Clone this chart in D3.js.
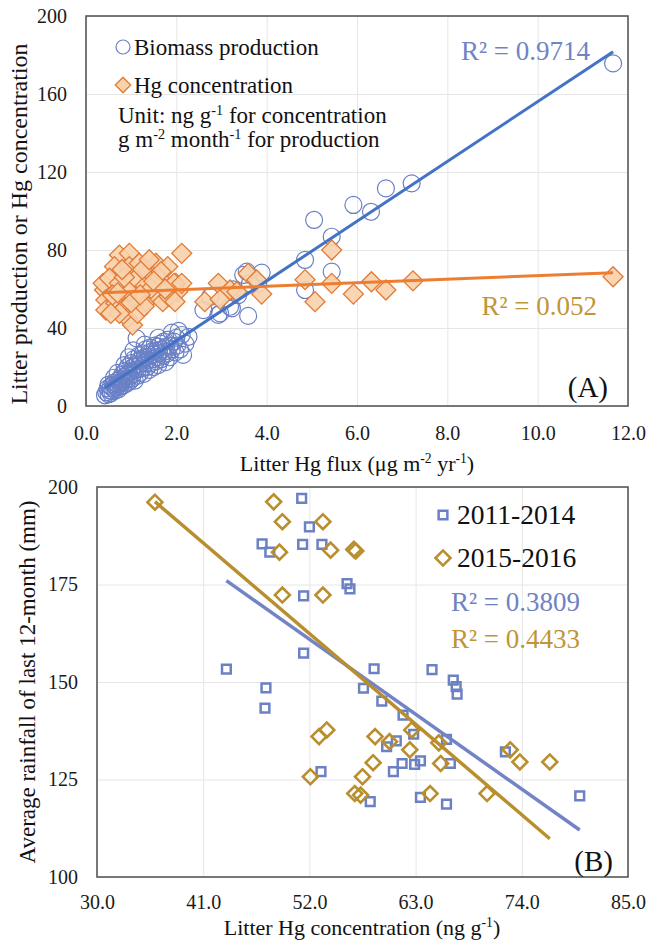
<!DOCTYPE html>
<html>
<head>
<meta charset="utf-8">
<script src="https://cdn.jsdelivr.net/npm/d3@7"></script>
<style>
  body { margin: 0; background: #fff; }
  svg, svg text { font-family: "Liberation Serif", "Times New Roman", serif; }
</style>
</head>
<body>
<div id="chart"></div>
<script>
// ---- Panel A: litter Hg flux vs production / Hg concentration ----
// [flux (ug m-2 yr-1), biomass production (g m-2 month-1)]
const biomassProd = [
  [0.42,5.5],[0.45,7],[0.48,9],[0.5,6],[0.52,8],[0.55,10],[0.55,6.5],[0.58,7.5],[0.6,9],[0.6,11],
  [0.62,12],[0.65,8],[0.65,10],[0.68,9.5],[0.7,11],[0.7,13],[0.72,8.5],[0.74,12],[0.75,14],[0.76,10],
  [0.78,11.5],[0.8,13],[0.8,16],[0.82,10.5],[0.84,12.5],[0.85,15],[0.86,18],[0.88,13.5],[0.9,11.5],[0.9,16],
  [0.92,20],[0.94,14],[0.95,17],[0.96,12.5],[0.98,15.5],[1.0,18],[1.0,22],[1.02,14],[1.04,20],[1.05,16.5],
  [1.06,24],[1.08,13],[1.1,18.5],[1.1,21],[1.12,34.7],[1.14,15.5],[1.15,23],[1.16,19],[1.18,26],[1.2,17],
  [1.2,21.5],[1.22,24],[1.25,19.5],[1.26,27],[1.28,16.5],[1.3,22],[1.3,25],[1.32,29],[1.35,20],[1.36,23.5],
  [1.38,27],[1.4,18.5],[1.4,25.5],[1.42,30],[1.45,22],[1.46,28],[1.48,24],[1.5,20],[1.5,26.5],[1.52,31],
  [1.55,23],[1.56,28.5],[1.58,25],[1.6,30.5],[1.6,21],[1.62,27],[1.65,32],[1.66,24],[1.68,29],[1.7,26],
  [1.72,33],[1.75,28],[1.76,22.5],[1.78,30.4],[1.8,27],[1.82,34],[1.85,25],[1.86,31],[1.9,37.6],[1.9,29],
  [1.95,33],[1.98,27.5],[2.0,35],[2.02,31],[2.05,38.5],[2.08,29],[2.12,36.4],[2.15,26.2],[2.2,32],[2.27,35.5],
  [0.95,25],[1.05,28.5],[0.7,17],[0.85,21],[0.5,11],[0.62,14.5],[1.3,31.5],[1.6,35],
  [2.60,49.2],[2.75,56.0],[2.93,46.7],[2.97,47.5],[3.19,50.9],[3.23,50.1],[3.26,59.8],[3.37,56.9],[3.48,67.2],
  [3.56,68.9],[3.59,46.2],[3.63,62.9],[3.81,62.9],[3.89,68.4],[4.85,59.5],[4.85,74.9],[5.05,95.4],[5.44,86.8],
  [5.44,68.9],[5.92,103.1],[6.31,99.6],[6.64,111.6],[7.21,114.2],[11.67,175.7]
];

// [flux, litter Hg concentration (ng g-1)]
const hgConc = [
  [0.74,77.4],[0.96,78.3],[0.63,71.5],[0.96,71.5],[1.18,73.2],[1.55,73.2],[1.81,71.5],[1.37,68.9],[0.41,59.5],[0.38,62.9],
  [0.52,65.5],[0.74,62.9],[1.07,64.6],[1.29,61.2],[1.62,65.5],[1.99,62.9],[2.03,58.6],[0.44,54.4],[0.44,49.2],[0.66,52.7],
  [0.85,50.1],[0.92,45.0],[1.03,41.5],[1.33,53.5],[1.11,56.1],[1.55,56.9],[1.70,53.5],[1.84,56.1],[1.14,47.5],[0.74,47.5],
  [1.44,60.3],[1.66,68.9],[1.95,62.9],[0.59,56.9],[0.96,58.6],[1.29,51.1],[0.55,47.5],[1.97,53.5],[2.12,62.9],[0.85,66],
  [1.25,70],[1.5,64],[0.7,58],[1.0,53],[1.2,57],[0.8,70],[1.4,75],[1.75,60],
  [2.12,78.3],[2.63,53.5],[2.93,62.9],[2.97,54.7],[3.19,59.5],[3.34,58.6],[3.59,68.0],[3.78,64.6],[3.89,57.4],
  [4.85,64.8],[5.07,53.5],[5.44,80.0],[5.44,62.9],[5.92,57.4],[6.32,63.7],[6.64,59.5],[7.24,64.2],[11.67,66.3]
];

// linear fits: [slope, intercept]
const fitBiomass = [15.33, 2.77];
const fitHgConc = [0.912, 57.75];
const r2A = ["R² = 0.9714", "R² = 0.052"];

const xTicksA = [0, 2, 4, 6, 8, 10, 12];
const yTicksA = [0, 40, 80, 120, 160, 200];

// ---- Panel B: litter Hg concentration vs rainfall ----
// [Hg concentration (ng g-1), rainfall of last 12 months (mm)]
const rain2011 = [
  [43.4,153.3],[47.5,148.5],[47.4,143.3],[47.1,185.4],[47.9,183.3],[51.2,197.1],[52.0,189.8],[51.3,185.3],[53.3,185.3],
  [51.4,172.1],[51.4,157.4],[53.2,127.0],[55.9,175.2],[56.2,173.9],[58.7,153.4],[64.7,153.2],[57.6,148.4],[59.5,145.1],
  [61.7,141.5],[66.9,150.5],[67.2,148.8],[67.3,146.9],[62.8,136.6],[61.0,134.9],[60.0,133.4],[66.2,135.3],[61.6,129.1],
  [60.7,127.0],[62.9,128.9],[63.5,129.8],[66.6,129.1],[58.3,119.3],[63.5,120.4],[66.2,118.7],[72.3,132.1],[80.0,120.8]
];
const rain2015 = [
  [36.0,196.1],[48.3,196.2],[49.2,191.1],[48.9,183.3],[49.2,172.3],[53.4,191.1],[53.4,172.3],[54.2,183.8],[56.6,184.0],
  [56.8,183.6],[53.0,136.0],[53.8,137.7],[52.1,125.7],[58.8,136.0],[60.3,134.7],[62.6,137.7],[62.4,132.6],[58.6,129.3],
  [57.5,125.7],[56.7,121.4],[57.3,121.0],[64.5,121.4],[65.4,134.4],[65.6,129.1],[70.4,121.4],[72.8,132.6],[73.8,129.5],
  [76.9,129.5]
];
const fit2011 = [-1.747, 251.8];
const fit2015 = [-2.113, 272.3];
const r2B = ["R² = 0.3809", "R² = 0.4433"];
const seriesNamesB = ["2011-2014", "2015-2016"];

const xTicksB = [30, 41, 52, 63, 74, 85];
const yTicksB = [100, 125, 150, 175, 200];

const serif = "Liberation Serif, Times New Roman, serif";

// text with superscript bits, parts starting with "^" are raised
function addRich (textSel, parts) {
  let raised = false;
  parts.forEach((p) => {
    let sup = p.startsWith("^");
    let t = textSel.append("tspan").text(sup ? p.slice(1) : p);
    if (sup) {
      t.attr("font-size", "0.62em").attr("dy", "-0.55em");
      raised = true;
    } else if (raised) {
      t.attr("dy", "0.341em");
      raised = false;
    }
  });
  return textSel;
}

class LitterHgFigure {
  constructor (opts) {
    this.w = opts.w;
    this.h = opts.h;
    this.gridColor = "#e6e6e6";
    this.boxColor = "#595959";
  }

  render () {
    this.initializeSVG();
    this.drawPanelA();
    this.drawPanelB();
  }

  initializeSVG () {
    d3.select("#chart svg").remove();
    this.svg = d3.select("#chart")
      .append("svg")
      .attr("width", this.w)
      .attr("height", this.h)
      .attr("font-family", serif);
  }

  // gridlines + tick labels + frame for one panel
  addFrame (g, x, y, xTicks, yTicks, fmtX, fmtY, padX, padY) {
    let [x0, x1] = x.range(), [y0, y1] = y.range();
    let pw = x1 - x0, ph = y0 - y1;

    g.append("g")
      .attr("class", "grid-x")
      .attr("transform", `translate(0, ${y0})`)
      .call(d3.axisBottom(x).tickValues(xTicks).tickSize(-ph).tickFormat(""))
      .call((s) => s.select(".domain").remove());

    g.append("g")
      .attr("class", "grid-y")
      .attr("transform", `translate(${x0}, 0)`)
      .call(d3.axisLeft(y).tickValues(yTicks).tickSize(-pw).tickFormat(""))
      .call((s) => s.select(".domain").remove());

    g.selectAll(".grid-x line, .grid-y line")
      .style("stroke", this.gridColor)
      .style("stroke-width", 1);

    // tick labels, no tick marks
    let ax = g.append("g")
      .attr("transform", `translate(0, ${y0})`)
      .call(d3.axisBottom(x).tickValues(xTicks).tickSize(0).tickPadding(padX).tickFormat(fmtX));
    let ay = g.append("g")
      .attr("transform", `translate(${x0}, 0)`)
      .call(d3.axisLeft(y).tickValues(yTicks).tickSize(0).tickPadding(padY).tickFormat(fmtY));

    [ax, ay].forEach((a) => {
      a.attr("font-family", serif).attr("font-size", 20);
      a.select(".domain").remove();
      a.selectAll("text").style("fill", "#1a1a1a");
    });

    g.append("rect")
      .attr("x", x0)
      .attr("y", y1)
      .attr("width", pw)
      .attr("height", ph)
      .style("fill", "none")
      .style("stroke", this.boxColor)
      .style("stroke-width", 1.6);
  }

  addFitLine (g, x, y, fit, pts, color, width) {
    let ext = d3.extent(pts, (d) => d[0]);
    let line = d3.line()
      .x((d) => x(d))
      .y((d) => y(fit[0] * d + fit[1]));
    g.append("path")
      .attr("d", line(ext))
      .style("fill", "none")
      .style("stroke", color)
      .style("stroke-width", width);
  }

  drawPanelA () {
    let g = this.svg.append("g").attr("class", "panel-a");
    let x = d3.scaleLinear().domain([0, 12]).range([86, 628]);
    let y = d3.scaleLinear().domain([0, 200]).range([406, 16]);

    this.addFrame(g, x, y, xTicksA, yTicksA, d3.format(".1f"), d3.format("d"), 20, 19);

    let blue = "#6a80c6", orange = "#e27a35", peach = "#f7d2ac";

    // biomass production circles
    g.append("g").selectAll("circle")
      .data(biomassProd)
      .join("circle")
      .attr("cx", (d) => x(d[0]))
      .attr("cy", (d) => y(d[1]))
      .attr("r", 8.5)
      .style("fill", "none")
      .style("stroke", blue)
      .style("stroke-width", 1.2);

    // Hg concentration diamonds
    let diamond = d3.symbol().type(d3.symbolSquare).size(200);
    g.append("g").selectAll("path")
      .data(hgConc)
      .join("path")
      .attr("d", diamond)
      .attr("transform", (d) => `translate(${x(d[0])}, ${y(d[1])}) rotate(45)`)
      .style("fill", peach)
      .style("fill-opacity", 0.9)
      .style("stroke", orange)
      .style("stroke-width", 1.3);

    this.addFitLine(g, x, y, fitBiomass, biomassProd, "#4472c4", 3);
    this.addFitLine(g, x, y, fitHgConc, hgConc, "#ed7d31", 3);

    // legend
    let lg = g.append("g").attr("class", "legend-a");
    lg.append("circle")
      .attr("cx", 123).attr("cy", 47).attr("r", 7)
      .style("fill", "none").style("stroke", blue).style("stroke-width", 1.2);
    lg.append("path")
      .attr("d", d3.symbol().type(d3.symbolSquare).size(120))
      .attr("transform", "translate(123, 85) rotate(45)")
      .style("fill", peach).style("stroke", orange).style("stroke-width", 1.3);

    let legendText = [
      { x: 134, y: 55, parts: ["Biomass production"] },
      { x: 134, y: 93, parts: ["Hg concentration"] },
      { x: 118, y: 123, parts: ["Unit: ng g", "^-1", " for concentration"] },
      { x: 118, y: 147, parts: ["g m", "^-2", " month", "^-1", " for production"] }
    ];
    legendText.forEach((t) => {
      addRich(lg.append("text")
        .attr("x", t.x).attr("y", t.y)
        .attr("font-size", 23)
        .style("fill", "#111"), t.parts);
    });

    // R² labels
    g.append("text")
      .attr("x", 590).attr("y", 60)
      .attr("text-anchor", "end")
      .attr("font-size", 27)
      .style("fill", "#6f84c6")
      .text(r2A[0]);
    g.append("text")
      .attr("x", 597).attr("y", 315)
      .attr("text-anchor", "end")
      .attr("font-size", 27)
      .style("fill", "#bf9638")
      .text(r2A[1]);

    g.append("text")
      .attr("x", 608).attr("y", 397)
      .attr("text-anchor", "end")
      .attr("font-size", 29)
      .style("fill", "#111")
      .text("(A)");

    // axis titles
    addRich(g.append("text")
      .attr("x", 357).attr("y", 471)
      .attr("text-anchor", "middle")
      .attr("font-size", 22)
      .style("fill", "#111"), ["Litter Hg flux (μg m", "^-2", " yr", "^-1", ")"]);

    g.append("text")
      .attr("transform", "translate(27, 224) rotate(-90)")
      .attr("text-anchor", "middle")
      .attr("font-size", 24)
      .style("fill", "#111")
      .text("Litter production or Hg concentration");
  }

  drawPanelB () {
    let g = this.svg.append("g").attr("class", "panel-b");
    let x = d3.scaleLinear().domain([30, 85]).range([97, 628]);
    let y = d3.scaleLinear().domain([100, 200]).range([877, 487]);

    this.addFrame(g, x, y, xTicksB, yTicksB, d3.format(".1f"), d3.format("d"), 18, 19);

    let blue = "#6c80c4", gold = "#b98f2e";
    let square = d3.symbol().type(d3.symbolSquare).size(76);
    let diamond = d3.symbol().type(d3.symbolSquare).size(112);

    g.append("g").selectAll("path")
      .data(rain2011)
      .join("path")
      .attr("d", square)
      .attr("transform", (d) => `translate(${x(d[0])}, ${y(d[1])})`)
      .style("fill", "none")
      .style("stroke", blue)
      .style("stroke-width", 2.5);

    g.append("g").selectAll("path")
      .data(rain2015)
      .join("path")
      .attr("d", diamond)
      .attr("transform", (d) => `translate(${x(d[0])}, ${y(d[1])}) rotate(45)`)
      .style("fill", "none")
      .style("stroke", gold)
      .style("stroke-width", 2.6);

    this.addFitLine(g, x, y, fit2011, rain2011, "#7384c6", 3.5);
    this.addFitLine(g, x, y, fit2015, rain2015, gold, 3.5);

    // legend
    g.append("path")
      .attr("d", square)
      .attr("transform", "translate(443, 515)")
      .style("fill", "none").style("stroke", blue).style("stroke-width", 2.5);
    g.append("path")
      .attr("d", diamond)
      .attr("transform", "translate(443, 558) rotate(45)")
      .style("fill", "none").style("stroke", gold).style("stroke-width", 2.6);

    g.selectAll(".leg-b")
      .data(seriesNamesB)
      .join("text")
      .attr("class", "leg-b")
      .attr("x", 457)
      .attr("y", (d, i) => 524 + i * 43)
      .attr("font-size", 27.5)
      .style("fill", "#111")
      .text((d) => d);

    g.selectAll(".r2-b")
      .data(r2B)
      .join("text")
      .attr("class", "r2-b")
      .attr("x", 580)
      .attr("y", (d, i) => 611 + i * 37)
      .attr("text-anchor", "end")
      .attr("font-size", 27)
      .style("fill", (d, i) => i ? "#bf9536" : "#7082c3")
      .text((d) => d);

    g.append("text")
      .attr("x", 613).attr("y", 871)
      .attr("text-anchor", "end")
      .attr("font-size", 29)
      .style("fill", "#111")
      .text("(B)");

    addRich(g.append("text")
      .attr("x", 362).attr("y", 935)
      .attr("text-anchor", "middle")
      .attr("font-size", 22)
      .style("fill", "#111"), ["Litter Hg concentration (ng g", "^-1", ")"]);

    g.append("text")
      .attr("transform", "translate(35, 682) rotate(-90)")
      .attr("text-anchor", "middle")
      .attr("font-size", 23)
      .style("fill", "#111")
      .text("Average rainfall of last 12-month (mm)");
  }
}

new LitterHgFigure({ w: 646, h: 942 }).render();
</script>
</body>
</html>
